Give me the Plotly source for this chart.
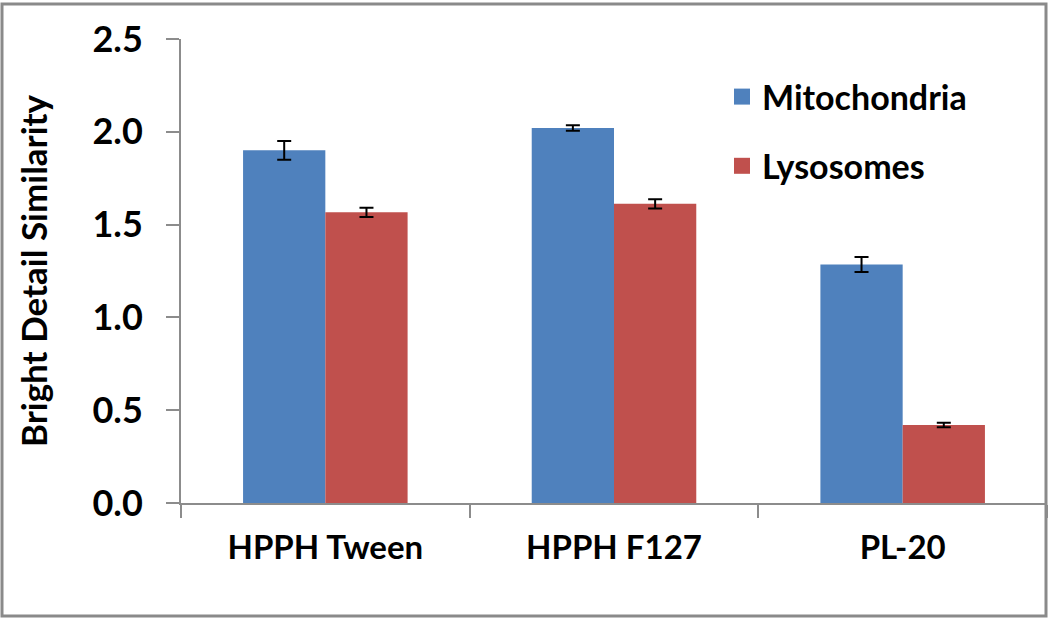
import plotly.graph_objects as go

categories = ["HPPH Tween", "HPPH F127", "PL-20"]
mito = [1.90, 2.02, 1.285]
mito_err = [0.05, 0.015, 0.04]
lyso = [1.566, 1.612, 0.42]
lyso_err = [0.025, 0.025, 0.012]
yticks = [0.0, 0.5, 1.0, 1.5, 2.0, 2.5]
ytick_labels = ["0.0", "0.5", "1.0", "1.5", "2.0", "2.5"]

BLUE = "#4F81BD"
RED = "#C0504D"
FONT = "Lato"

W, H = 1050, 619
L, R, T, B = 181, 3, 39, 116

fig = go.Figure()
for name, vals, errs, col in [("Mitochondria", mito, mito_err, BLUE),
                              ("Lysosomes", lyso, lyso_err, RED)]:
    fig.add_trace(go.Bar(
        x=categories, y=vals, name=name, marker_color=col, marker_line_width=0,
        error_y=dict(type="data", array=errs, color="black", thickness=2, width=7),
        showlegend=False))
    fig.add_trace(go.Scatter(
        x=[None], y=[None], mode="markers", name=name, legendgroup=name,
        marker=dict(symbol="square", size=20, color=col)))

pw = W - L - R
ph = H - T - B
def px(x):
    return (x - L) / pw
def py(y):
    return (H - B - y) / ph

fig.update_layout(
    width=W, height=H,
    margin=dict(l=L, r=R, t=T, b=B),
    paper_bgcolor="white", plot_bgcolor="white",
    barmode="group", bargap=0.43, bargroupgap=0,
    font=dict(family=FONT, color="black"),
    legend=dict(x=px(722), y=py(68), xanchor="left", yanchor="top",
                font=dict(size=34, family=FONT, weight="bold"),
                tracegroupgap=22, bgcolor="rgba(0,0,0,0)"),
    shapes=[dict(type="rect", xref="paper", yref="paper",
                 x0=px(2), x1=px(1046), y0=py(4), y1=py(616),
                 line=dict(color="#8a8a8a", width=3), layer="below")],
)
fig.update_xaxes(
    showline=True, linecolor="#8c8c8c", linewidth=2,
    ticks="outside", tickson="boundaries", ticklen=13, tickcolor="#8c8c8c", tickwidth=2,
    tickfont=dict(size=33, family=FONT, weight="bold"), ticklabelstandoff=14,
    showgrid=False, zeroline=False)
fig.update_yaxes(
    range=[0, 2.5], tickvals=yticks, ticktext=ytick_labels,
    showline=True, linecolor="#8c8c8c", linewidth=2,
    ticks="outside", ticklen=13, tickcolor="#8c8c8c", tickwidth=2,
    tickfont=dict(size=36, family=FONT, weight="bold"), ticklabelstandoff=16,
    title=dict(text="Bright Detail Similarity", font=dict(size=35, family=FONT, weight="bold"), standoff=34),
    showgrid=False, zeroline=False)

fig.write_html("out.html", config={"displayModeBar": False},
               post_script="document.body.style.margin='0';")
